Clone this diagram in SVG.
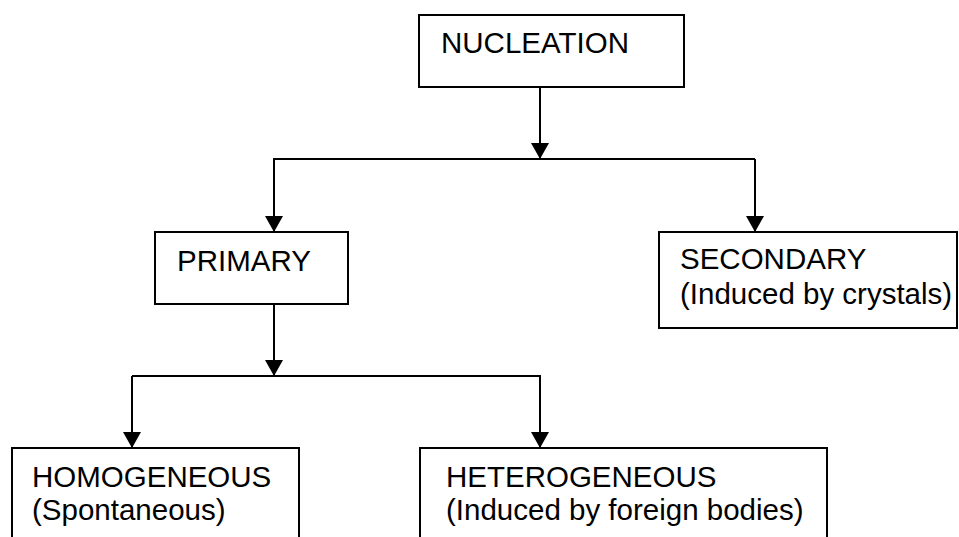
<svg xmlns="http://www.w3.org/2000/svg" width="959" height="537" viewBox="0 0 959 537">
<style>
.box{fill:#fff;stroke:#000;stroke-width:2}
.t{font-family:"Liberation Sans",Arial,sans-serif;font-size:29.5px;fill:#000}
.c{fill:none;stroke:#000;stroke-width:2}
</style>
<defs>
<marker id="ah" markerUnits="userSpaceOnUse" markerWidth="16" markerHeight="18" refX="16" refY="9" orient="auto">
<path d="M0,0 L16,9 L0,18 z" fill="#000"/>
</marker>
</defs>
<rect width="959" height="537" fill="#fff"/>
<g id="connectors">
<path class="c" d="M540,87 V159" marker-end="url(#ah)"/>
<path class="c" d="M273,159 H755"/>
<path class="c" d="M274,159 V232" marker-end="url(#ah)"/>
<path class="c" d="M755,159 V232" marker-end="url(#ah)"/>
<path class="c" d="M274,304 V376" marker-end="url(#ah)"/>
<path class="c" d="M132,376 H541"/>
<path class="c" d="M132,376 V448" marker-end="url(#ah)"/>
<path class="c" d="M540,376 V448" marker-end="url(#ah)"/>
</g>
<g id="nucleation">
<rect class="box" x="419" y="15" width="265" height="72"/>
<text class="t" x="441" y="53">NUCLEATION</text>
</g>
<g id="primary">
<rect class="box" x="155" y="232" width="193" height="72"/>
<text class="t" x="177" y="271">PRIMARY</text>
</g>
<g id="secondary">
<rect class="box" x="659" y="232" width="298" height="96"/>
<text class="t" x="680" y="269">SECONDARY</text>
<text class="t" x="680" y="304">(Induced by crystals)</text>
</g>
<g id="homogeneous">
<rect class="box" x="12" y="448" width="287" height="100"/>
<text class="t" x="32" y="487">HOMOGENEOUS</text>
<text class="t" x="32" y="520">(Spontaneous)</text>
</g>
<g id="heterogeneous">
<rect class="box" x="420" y="448" width="407" height="100"/>
<text class="t" x="446" y="487">HETEROGENEOUS</text>
<text class="t" x="446" y="520">(Induced by foreign bodies)</text>
</g>
</svg>
